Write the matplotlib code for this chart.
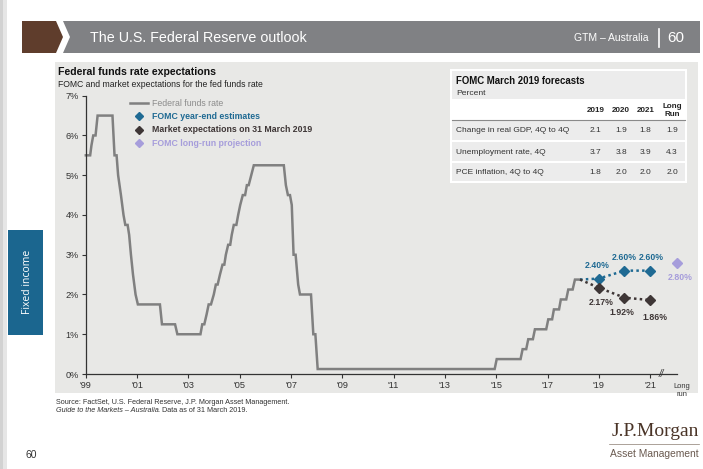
import matplotlib
matplotlib.use('Agg')
import matplotlib.pyplot as plt
from matplotlib.patches import Rectangle, Polygon
from matplotlib.lines import Line2D

plt.rcParams['font.family'] = ['Liberation Sans', 'DejaVu Sans']

# fed funds rate path, x in chart years ('99 tick = 1999.0), y in percent
ffr_t = [1999.00, 1999.17, 1999.22, 1999.29, 1999.38, 1999.46, 2000.04, 2000.12, 2000.20, 2000.26,
         2000.37, 2000.47, 2000.54, 2000.63, 2000.69, 2000.76, 2000.84, 2000.94, 2001.03, 2001.89,
         2001.97, 2002.48, 2002.57, 2003.47, 2003.54, 2003.62, 2003.71, 2003.79, 2003.88, 2003.99,
         2004.07, 2004.14, 2004.23, 2004.33, 2004.40, 2004.46, 2004.55, 2004.63, 2004.69, 2004.77,
         2004.87, 2004.94, 2005.02, 2005.12, 2005.21, 2005.28, 2005.35, 2005.45, 2005.55, 2006.72,
         2006.80, 2006.88, 2006.96, 2007.03, 2007.10, 2007.18, 2007.28, 2007.35, 2007.78, 2007.87,
         2007.95, 2008.04, 2014.94, 2015.02, 2015.95, 2016.03, 2016.17, 2016.25, 2016.43, 2016.51,
         2016.95, 2017.03, 2017.18, 2017.25, 2017.45, 2017.52, 2017.73, 2017.81, 2017.98, 2018.07,
         2018.27]
ffr_v = [5.5, 5.5, 5.75, 6.0, 6.0, 6.5, 6.5, 5.5, 5.5, 5.0,
         4.5, 4.0, 3.75, 3.75, 3.5, 3.0, 2.5, 2.0, 1.75, 1.75,
         1.25, 1.25, 1.0, 1.0, 1.25, 1.25, 1.5, 1.75, 1.75, 2.0,
         2.25, 2.25, 2.5, 2.75, 2.75, 3.0, 3.25, 3.25, 3.5, 3.75,
         3.75, 4.0, 4.25, 4.5, 4.5, 4.75, 4.75, 5.0, 5.25, 5.25,
         4.75, 4.5, 4.5, 4.25, 3.0, 3.0, 2.25, 2.0, 2.0, 1.0,
         1.0, 0.125, 0.125, 0.375, 0.375, 0.625, 0.625, 0.875, 0.875, 1.125,
         1.125, 1.375, 1.375, 1.625, 1.625, 1.875, 1.875, 2.125, 2.125, 2.375,
         2.375]

est_years = [2019, 2020, 2021]
fomc_est = [2.40, 2.60, 2.60]
market_exp = [2.17, 1.92, 1.86]
long_run_x = 2022.04
long_run = 2.80

tick_years = list(range(1999, 2022, 2))
tick_labels = ["'99", "'01", "'03", "'05", "'07", "'09", "'11", "'13", "'15", "'17", "'19", "'21"]

table_cols = ['2019', '2020', '2021', 'Long\nRun']
table_rows = ['Change in real GDP, 4Q to 4Q', 'Unemployment rate, 4Q', 'PCE inflation, 4Q to 4Q']
gdp = [2.1, 1.9, 1.8, 1.9]
unemp = [3.7, 3.8, 3.9, 4.3]
pce = [1.8, 2.0, 2.0, 2.0]

c_ffr = '#808080'
c_fomc = '#1f6a93'
c_mkt = '#3e3636'
c_lr = '#a69ddb'
c_panel = '#e8e8e6'

fig = plt.figure(figsize=(7.03, 4.69), dpi=100)

# page furniture drawn in pixel coordinates
bg = fig.add_axes([0, 0, 1, 1])
bg.set_xlim(0, 703)
bg.set_ylim(469, 0)
bg.axis('off')

bg.add_patch(Rectangle((0, 0), 3, 469, color='#d2d2d2', lw=0))
bg.add_patch(Rectangle((3, 0), 4, 469, color='#e6e6e6', lw=0))
bg.add_patch(Rectangle((55, 62), 643, 331, color=c_panel, lw=0))

# header band
bg.add_patch(Polygon([(63, 21), (700, 21), (700, 53), (63, 53), (70, 37)], color='#808184', lw=0))
bg.add_patch(Polygon([(22, 21), (56, 21), (63, 37), (56, 53), (22, 53)], color='#5f3d2c', lw=0))
bg.text(90, 38, 'The U.S. Federal Reserve outlook', color='white', fontsize=10.3,
        family=['Liberation Sans Narrow', 'Liberation Sans'], va='center')
bg.text(648, 38, 'GTM \u2013 Australia', color='white', fontsize=7.5,
        family=['Liberation Sans Narrow', 'Liberation Sans'], va='center', ha='right')
bg.plot([659, 659], [29, 47], color='white', lw=1.2)
bg.text(667, 38, '60', color='white', fontsize=11,
        family=['Liberation Sans Narrow', 'Liberation Sans'], va='center')

# side tab
bg.add_patch(Rectangle((8, 230), 35, 105, color='#1b668f', lw=0))
bg.text(27, 282, 'Fixed income', color='white', fontsize=7.5, rotation=90,
        ha='center', va='center', family=['Open Sans', 'DejaVu Sans'])

# chart titles
bg.text(58, 72, 'Federal funds rate expectations', fontsize=7.6, fontweight='bold',
        color='#111111', va='center')
bg.text(58, 84.5, 'FOMC and market expectations for the fed funds rate', fontsize=6.2,
        color='#222222', va='center')

# legend
bg.add_line(Line2D([130, 148], [103.5, 103.5], color=c_ffr, lw=1.8))
bg.text(151.5, 103.5, 'Federal funds rate', fontsize=6.3, color='#8c8c8c', va='center')
leg = [('FOMC year-end estimates', c_fomc), ('Market expectations on 31 March 2019', c_mkt),
       ('FOMC long-run projection', c_lr)]
for i, (lbl, col) in enumerate(leg):
    yy = 116.5 + i * 13.3
    bg.plot(138.7, yy, marker='D', ms=4.5, color=col, ls='none')
    bg.text(151.5, yy, lbl, fontsize=6.3, fontweight='bold', color=col, va='center')

# forecast table
bg.add_patch(Rectangle((450, 69.5), 236.5, 113.5, color='white', lw=0))
bg.add_patch(Rectangle((452, 71.5), 232.5, 27.5, color='#ececec', lw=0))
row_tops = [121.5, 142.5, 163]
for rt in row_tops:
    bg.add_patch(Rectangle((452, rt), 232.5, 18.5, color='#ececec', lw=0))
bg.plot([452, 684.5], [120.5, 120.5], color='#8a8a8a', lw=0.8)
bg.text(456, 80.5, 'FOMC March 2019 forecasts', fontsize=6.9, fontweight='bold',
        color='#111111', va='center')
bg.text(456, 93.5, 'Percent', fontsize=6.1, color='#333333', va='center')
col_x = [595.5, 621, 645.5, 672]
for cx, cl in zip(col_x, table_cols):
    bg.text(cx, 110.5, cl, fontsize=5.8, fontweight='bold',
            color='#222222', ha='center', va='center', linespacing=1.3)
for rt, name, vals in zip(row_tops, table_rows, [gdp, unemp, pce]):
    yy = rt + 9.5
    bg.text(456, yy, name, fontsize=6.0, color='#333333', va='center')
    for cx, v in zip(col_x, vals):
        bg.text(cx, yy, f'{v:.1f}', fontsize=6.0, color='#333333', ha='center', va='center')

# source and footer
bg.text(55.5, 402.5, 'Source: FactSet, U.S. Federal Reserve, J.P. Morgan Asset Management.',
        fontsize=5.2, color='#333333', va='center')
guide = bg.text(55.5, 410.5, 'Guide to the Markets \u2013 Australia', fontsize=5.2,
                color='#333333', va='center', style='italic')
bg.annotate('. Data as of 31 March 2019.', xy=(1, 0.5), xycoords=guide, fontsize=5.2,
            color='#333333', va='center', ha='left')
bg.text(25, 455, '60', fontsize=7.5, color='#333333', va='center')
bg.text(699, 432, 'J.P.Morgan', fontsize=14, color='#4a3427', ha='right', va='center',
        family=['Liberation Serif', 'DejaVu Serif'])
bg.plot([609, 699], [444.5, 444.5], color='#8a7b70', lw=0.5)
bg.text(699, 454, 'Asset Management', fontsize=7.4, color='#6a5a50', ha='right', va='center',
        family=['Liberation Sans Narrow', 'Liberation Sans'])

# main chart
ax = fig.add_axes([85.8 / 703, 95 / 469, (703 - 85.8) / 703, (374 - 95.7) / 469])
ax.set_facecolor('none')
ax.set_xlim(1999, 1999 + (703 - 85.8) / 25.65)
ax.set_ylim(0, 7)
for s in ['top', 'right']:
    ax.spines[s].set_visible(False)
for s in ['left', 'bottom']:
    ax.spines[s].set_color('#333333')
    ax.spines[s].set_linewidth(0.9)
ax.spines['bottom'].set_bounds(1999, long_run_x)

ax.plot(ffr_t, ffr_v, color=c_ffr, lw=1.8, solid_joinstyle='miter', clip_on=False)
ax.plot([ffr_t[-1]] + est_years, [ffr_v[-1]] + fomc_est, color=c_fomc, lw=1.8,
        ls=(0, (1, 1.3)), clip_on=False)
ax.plot(est_years, fomc_est, 'D', color=c_fomc, ms=5, clip_on=False)
ax.plot([ffr_t[-1]] + est_years, [ffr_v[-1]] + market_exp, color=c_mkt, lw=1.8,
        ls=(0, (1, 1.3)), clip_on=False)
ax.plot(est_years, market_exp, 'D', color=c_mkt, ms=5, clip_on=False)
ax.plot([long_run_x], [long_run], 'D', color=c_lr, ms=5, clip_on=False)

lab = dict(fontsize=6.3, fontweight='bold', ha='center', va='center')
fomc_off = [(-0.05, 0.33), (0.0, 0.33), (0.05, 0.33)]
for x, v, (dx, dy) in zip(est_years, fomc_est, fomc_off):
    ax.text(x + dx, v + dy, f'{v:.2f}%', color=c_fomc, **lab)
mkt_off = [(0.1, -0.36), (-0.1, -0.37), (0.2, -0.43)]
for x, v, (dx, dy) in zip(est_years, market_exp, mkt_off):
    ax.text(x + dx, v + dy, f'{v:.2f}%', color=c_mkt, **lab)
ax.text(long_run_x + 0.15, long_run - 0.37, f'{long_run:.2f}%', color=c_lr, **lab)

ax.text(2021.45, 0.0, '//', fontsize=7, color='#333333', ha='center', va='center',
        style='italic')
ax.text(long_run_x + 0.2, -0.22, 'Long\nrun', fontsize=5.4, color='#333333', ha='center',
        va='top', linespacing=1.25)

ax.set_xticks(tick_years)
ax.set_xticklabels(tick_labels)
ax.set_yticks(range(0, 8))
ax.set_yticklabels([f'{i}%' for i in range(0, 8)])
ax.tick_params(axis='both', direction='out', length=3, width=0.8, color='#333333',
               labelsize=6.6, labelcolor='#333333', pad=2)

fig.savefig('out.png', dpi=100)
